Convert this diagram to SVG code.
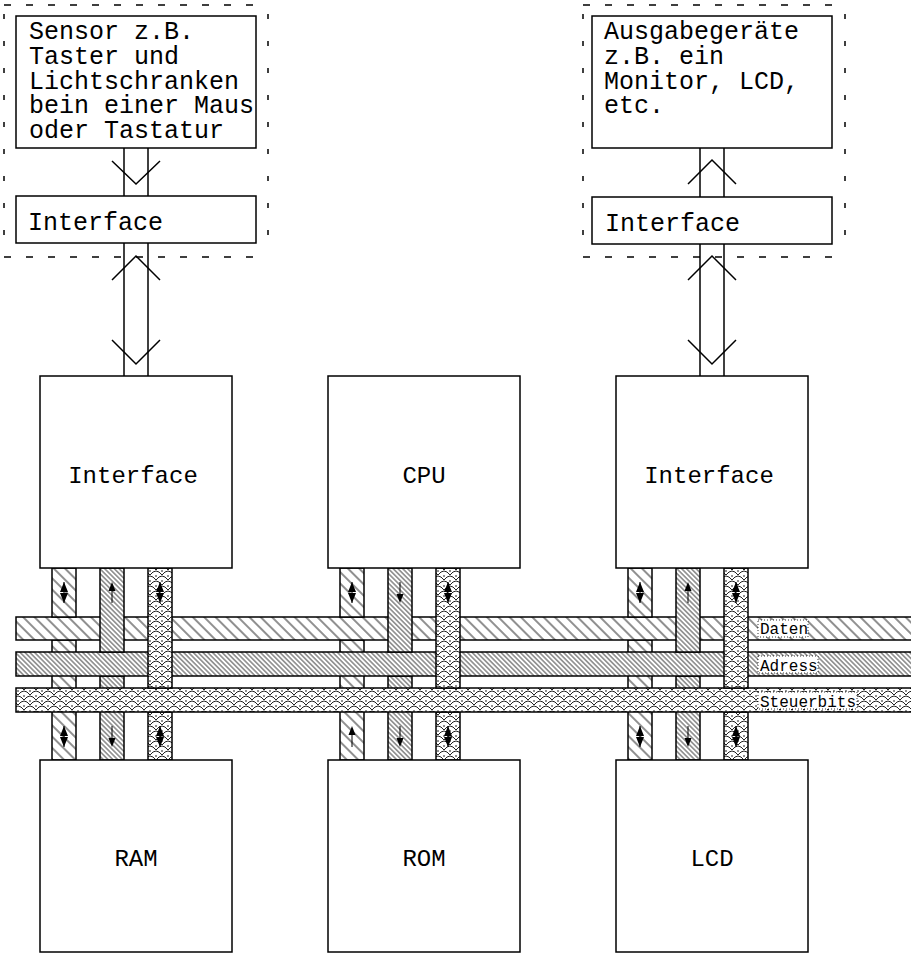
<svg xmlns="http://www.w3.org/2000/svg" xmlns:xlink="http://www.w3.org/1999/xlink" width="911" height="954" viewBox="0 0 911 954">
<style>
.box{fill:#fff;stroke:#000;stroke-width:1.5}
.ln{fill:none;stroke:#000;stroke-width:1.5}
.t{font-family:"Liberation Mono","Courier New",monospace;fill:#000}
.big{font-size:24px;text-anchor:middle}
.sm{font-size:25px}
.lab{font-size:16px}
.bar{stroke:#000;stroke-width:1.5}
.dh{fill:none;stroke:#000;stroke-width:1.5;stroke-dasharray:7 15}
.dv{fill:none;stroke:#000;stroke-width:1.5;stroke-dasharray:5 22}
.lb{fill:#fff;stroke:#000;stroke-width:0.8;stroke-dasharray:1 2}
</style>
<defs>
<pattern id="pD" width="8" height="8" patternUnits="userSpaceOnUse" patternTransform="rotate(45)">
<rect width="8" height="8" fill="#fff"/>
<line x1="0" y1="4" x2="8" y2="4" stroke="#222" stroke-width="1"/>
</pattern>
<pattern id="pA" width="3.4" height="3.4" patternUnits="userSpaceOnUse" patternTransform="rotate(45)">
<rect width="3.4" height="3.4" fill="#fff"/>
<line x1="0" y1="1.7" x2="3.4" y2="1.7" stroke="#333" stroke-width="0.9"/>
</pattern>
<pattern id="pS" width="12" height="10" patternUnits="userSpaceOnUse">
<rect width="12" height="10" fill="#fff"/>
<path d="M0 10 Q6 2 12 10 M-6 5 Q0 -3 6 5 M6 5 Q12 -3 18 5 M0 5 L0 7 M12 5 L12 7 M6 0 L6 2" fill="none" stroke="#222" stroke-width="1"/>
</pattern>
<g id="aDbl"><line x1="0" y1="0" x2="0" y2="21" stroke="#000" stroke-width="1"/><path d="M0 0 L-4 10 L4 10 Z M0 21 L-4 11 L4 11 Z" fill="#000"/></g>
<g id="aUp"><line x1="0" y1="5" x2="0" y2="21" stroke="#000" stroke-width="1"/><path d="M0 0 L-3.5 9 L3.5 9 Z" fill="#000"/></g>
<g id="aDn"><line x1="0" y1="0" x2="0" y2="16" stroke="#000" stroke-width="1"/><path d="M0 21 L-3.5 12 L3.5 12 Z" fill="#000"/></g>
</defs>
<rect width="911" height="954" fill="#fff"/>

<g id="frames">
<line class="dh" x1="4" y1="5" x2="268" y2="5"/>
<line class="dh" x1="4" y1="257" x2="268" y2="257"/>
<line class="dv" x1="4" y1="14" x2="4" y2="257"/>
<line class="dv" x1="268" y1="14" x2="268" y2="257"/>
<line class="dh" x1="583" y1="5" x2="845" y2="5"/>
<line class="dh" x1="583" y1="257" x2="845" y2="257"/>
<line class="dv" x1="583" y1="14" x2="583" y2="257"/>
<line class="dv" x1="845" y1="14" x2="845" y2="257"/>
</g>

<g id="connectors">
<line class="ln" x1="124" y1="148" x2="124" y2="196"/>
<line class="ln" x1="148" y1="148" x2="148" y2="196"/>
<line class="ln" x1="124" y1="243" x2="124" y2="376"/>
<line class="ln" x1="148" y1="243" x2="148" y2="376"/>
<path class="ln" d="M112 161 L136 184 L160 161"/>
<path class="ln" d="M112 280 L136 256 L160 280"/>
<path class="ln" d="M112 340 L136 364 L160 340"/>
<line class="ln" x1="700" y1="148" x2="700" y2="197"/>
<line class="ln" x1="724" y1="148" x2="724" y2="197"/>
<line class="ln" x1="700" y1="244" x2="700" y2="376"/>
<line class="ln" x1="724" y1="244" x2="724" y2="376"/>
<path class="ln" d="M688 184 L712 160 L736 184"/>
<path class="ln" d="M688 280 L712 256 L736 280"/>
<path class="ln" d="M688 340 L712 364 L736 340"/>

<g id="lower-bars">
<rect class="bar" x="52" y="640" width="24" height="120" fill="url(#pD)"/>
<rect class="bar" x="100" y="676" width="24" height="84" fill="url(#pA)"/>
<rect class="bar" x="148" y="712" width="24" height="48" fill="url(#pS)"/>
<rect class="bar" x="340" y="640" width="24" height="120" fill="url(#pD)"/>
<rect class="bar" x="388" y="676" width="24" height="84" fill="url(#pA)"/>
<rect class="bar" x="436" y="712" width="24" height="48" fill="url(#pS)"/>
<rect class="bar" x="628" y="640" width="24" height="120" fill="url(#pD)"/>
<rect class="bar" x="676" y="676" width="24" height="84" fill="url(#pA)"/>
<rect class="bar" x="724" y="712" width="24" height="48" fill="url(#pS)"/>
</g>
<g id="buses">
<rect class="bar" x="16" y="617" width="900" height="23" fill="url(#pD)"/>
<rect class="bar" x="16" y="652" width="900" height="24" fill="url(#pA)"/>
<rect class="bar" x="16" y="688" width="900" height="24" fill="url(#pS)"/>
</g>
<g id="upper-bars">
<rect class="bar" x="52" y="568" width="24" height="49" fill="url(#pD)"/>
<rect class="bar" x="100" y="568" width="24" height="84" fill="url(#pA)"/>
<rect class="bar" x="148" y="568" width="24" height="120" fill="url(#pS)"/>
<rect class="bar" x="340" y="568" width="24" height="49" fill="url(#pD)"/>
<rect class="bar" x="388" y="568" width="24" height="84" fill="url(#pA)"/>
<rect class="bar" x="436" y="568" width="24" height="120" fill="url(#pS)"/>
<rect class="bar" x="628" y="568" width="24" height="49" fill="url(#pD)"/>
<rect class="bar" x="676" y="568" width="24" height="84" fill="url(#pA)"/>
<rect class="bar" x="724" y="568" width="24" height="120" fill="url(#pS)"/>
</g>
<g id="arrows">
<use xlink:href="#aDbl" x="64" y="582"/>
<use xlink:href="#aUp" x="112" y="582"/>
<use xlink:href="#aDbl" x="160" y="582"/>
<use xlink:href="#aDbl" x="64" y="726"/>
<use xlink:href="#aDn" x="112" y="726"/>
<use xlink:href="#aDbl" x="160" y="726"/>
<use xlink:href="#aDbl" x="352" y="582"/>
<use xlink:href="#aDn" x="400" y="582"/>
<use xlink:href="#aDbl" x="448" y="582"/>
<use xlink:href="#aUp" x="352" y="726"/>
<use xlink:href="#aDn" x="400" y="726"/>
<use xlink:href="#aDbl" x="448" y="726"/>
<use xlink:href="#aDbl" x="640" y="582"/>
<use xlink:href="#aUp" x="688" y="582"/>
<use xlink:href="#aDbl" x="736" y="582"/>
<use xlink:href="#aDbl" x="640" y="726"/>
<use xlink:href="#aDn" x="688" y="726"/>
<use xlink:href="#aDbl" x="736" y="726"/>
</g>
<g id="bus-labels">
<rect class="lb" x="758" y="620" width="50" height="17"/>
<text class="t lab" x="760" y="634">Daten</text>
<rect class="lb" x="758" y="656" width="60" height="17"/>
<text class="t lab" x="760" y="671">Adress</text>
<rect class="lb" x="758" y="692" width="99" height="17"/>
<text class="t lab" x="760" y="707">Steuerbits</text>
</g>
</g>

<g id="sensor">
<rect class="box" x="16" y="16" width="240" height="132"/>
<text class="t sm"><tspan x="29" y="39">Sensor z.B.</tspan><tspan x="29" y="64">Taster und</tspan><tspan x="29" y="89">Lichtschranken</tspan><tspan x="29" y="113">bein einer Maus</tspan><tspan x="29" y="138">oder Tastatur</tspan></text>
</g>
<g id="interface-in-small">
<rect class="box" x="16" y="196" width="240" height="47"/>
<text class="t sm" x="28" y="230">Interface</text>
</g>
<g id="ausgabe">
<rect class="box" x="592" y="16" width="240" height="132"/>
<text class="t sm"><tspan x="604" y="39">Ausgabegeräte</tspan><tspan x="604" y="64">z.B. ein</tspan><tspan x="604" y="89">Monitor, LCD,</tspan><tspan x="604" y="113">etc.</tspan></text>
</g>
<g id="interface-out-small">
<rect class="box" x="592" y="197" width="240" height="47"/>
<text class="t sm" x="605" y="231">Interface</text>
</g>
<g id="interface-left">
<rect class="box" x="40" y="376" width="192" height="192"/>
<text class="t big" x="133" y="483">Interface</text>
</g>
<g id="cpu">
<rect class="box" x="328" y="376" width="192" height="192"/>
<text class="t big" x="424" y="483">CPU</text>
</g>
<g id="interface-right">
<rect class="box" x="616" y="376" width="192" height="192"/>
<text class="t big" x="709" y="483">Interface</text>
</g>
<g id="ram">
<rect class="box" x="40" y="760" width="192" height="192"/>
<text class="t big" x="136" y="866">RAM</text>
</g>
<g id="rom">
<rect class="box" x="328" y="760" width="192" height="192"/>
<text class="t big" x="424" y="866">ROM</text>
</g>
<g id="lcd">
<rect class="box" x="616" y="760" width="192" height="192"/>
<text class="t big" x="712" y="866">LCD</text>
</g>
</svg>
